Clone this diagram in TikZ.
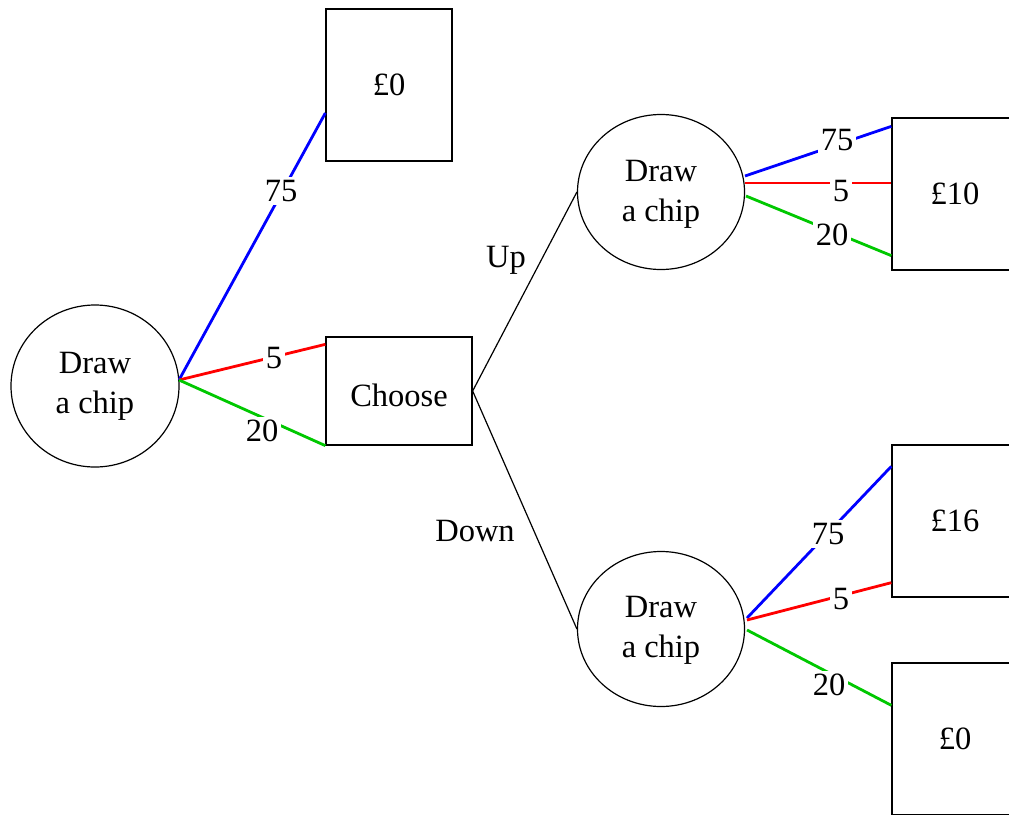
\documentclass[tikz,border=0pt]{standalone}
\usepackage{fontspec}
\setmainfont{Liberation Serif}
\usetikzlibrary{shapes.geometric,calc}
\definecolor{cblue}{RGB}{0,0,255}
\definecolor{cred}{RGB}{255,0,0}
\definecolor{cgreen}{RGB}{0,200,0}
\begin{document}
\begin{tikzpicture}[x=1pt,y=-1pt,
  every node/.style={font=\fontsize{32.5}{40}\selectfont},
  chip/.style={ellipse,draw,line width=1.2pt,minimum width=168pt,minimum height=162pt,inner sep=0pt,align=center,fill=white},
  chipb/.style={chip,minimum width=167pt,minimum height=155pt},
  prize/.style={rectangle,draw,line width=1.3pt,minimum width=126pt,minimum height=152pt,inner sep=0pt,fill=white},
  choosebox/.style={rectangle,draw,line width=1.3pt,minimum width=146pt,minimum height=108pt,inner sep=0pt,fill=white},
  bl/.style={draw=cblue,line width=2.8pt},
  rd/.style={draw=cred,line width=2.8pt},
  gr/.style={draw=cgreen,line width=2.8pt},
  blk/.style={draw=black,line width=1.2pt},
  lab/.style={fill=white,inner sep=3pt},
  txt/.style={inner sep=0pt}
]
\fill[white] (0,0) rectangle (1009,814);
\useasboundingbox (0,0) rectangle (1009,814);
\clip (0,0) rectangle (1009,814);

% nodes
\node[chip] (c0) at (95,386) {Draw\\a chip};
\node[prize] (b0) at (389,85) {£0};
\node[choosebox] (ch) at (399,391) {};
\node[txt] (cht) at (399,395) {Choose};
\node[chipb] (cu) at (661,192) {};
\node[txt,align=center] (cut) at (661,194) {Draw\\a chip};
\node[chipb] (cd) at (661,629) {};
\node[txt,align=center] (cdt) at (661,630) {Draw\\a chip};
\node[prize] (b10) at (955,194) {£10};
\node[prize] (b16) at (955,521) {£16};
\node[prize] (b00) at (955,739) {£0};

% start points on the chance nodes
\coordinate (s0) at (179,380);
\coordinate (su1) at (745,176);
\coordinate (su2) at (745,183);
\coordinate (su3) at (746,196);
\coordinate (sd1) at (747,618);
\coordinate (sd2) at (747,620);
\coordinate (sd3) at (747,630);

% first chance node
\draw[bl] (s0) -- ([yshift=-28pt]b0.west);
\draw[rd] (s0) -- ([yshift=-8pt]ch.north west);
\draw[gr] (s0) -- (ch.south west);

% decision
\draw[blk] (ch.east) -- (cu.west);
\draw[blk] (ch.east) -- (cd.west);

% upper chance node
\draw[bl] (su1) -- ([yshift=-9pt]b10.north west);
\draw[rd] (su2) -- ([yshift=11pt]b10.west);
\draw[gr] (su3) -- ([yshift=15pt]b10.south west);

% lower chance node
\draw[bl] (sd1) -- ([yshift=-22pt]b16.north west);
\draw[rd] (sd2) -- ([yshift=15pt]b16.south west);
\draw[gr] (sd3) -- ([yshift=-43pt]b00.north west);

% labels
\node[lab] (l1) at (281,191) {75};
\node[lab] (l2) at (274,358) {5};
\node[lab] (l3) at (262,431) {20};
\node[txt] (up) at (506,260) {Up};
\node[txt] (down) at (475,531) {Down};
\node[lab] (l4) at (837,140) {75};
\node[lab] (l5) at (841,191) {5};
\node[lab] (l6) at (832,235) {20};
\node[lab] (l7) at (828,534) {75};
\node[lab] (l8) at (841,599) {5};
\node[lab] (l9) at (829,685) {20};
\end{tikzpicture}
\end{document}
